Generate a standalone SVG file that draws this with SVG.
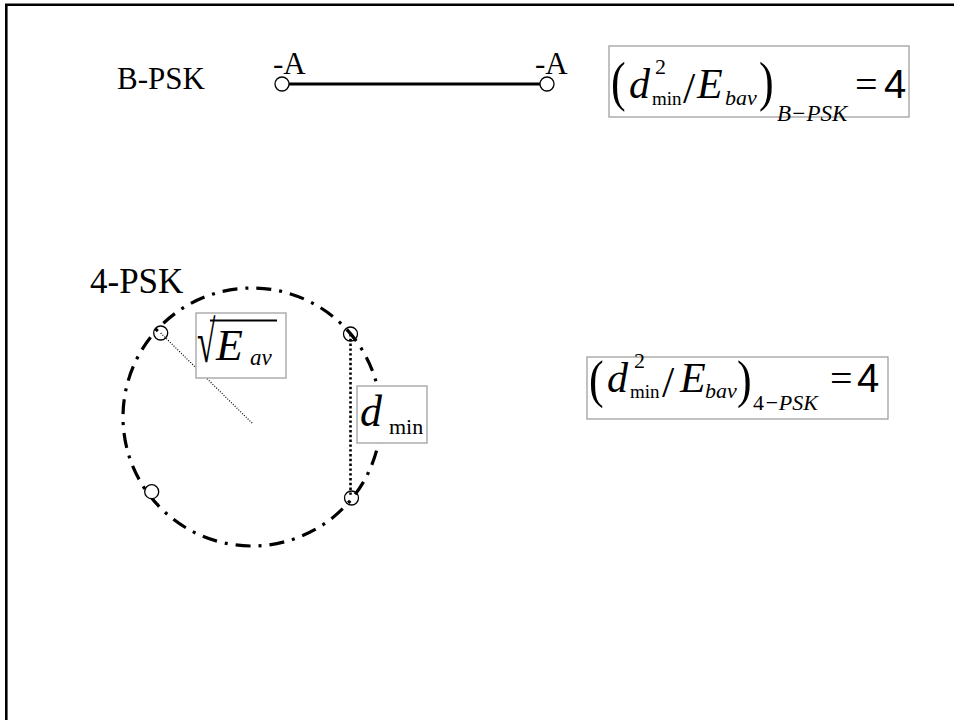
<svg xmlns="http://www.w3.org/2000/svg" width="954" height="720" viewBox="0 0 954 720">
<style>
.t{font-family:"Liberation Serif","Times New Roman",serif;fill:#000}
.i{font-style:italic}
.s{font-family:"Liberation Sans",Arial,sans-serif;fill:#000}
.box{fill:#fff;stroke:#a0a0a0;stroke-width:1.3}
.pt{fill:none;stroke:#000;stroke-width:1.3}
</style>
<rect width="954" height="720" fill="#fff"/>
<path d="M6.3,720 V4.7 H954" fill="none" stroke="#000" stroke-width="2.6"/>

<g id="bpsk">
<text class="t" x="117" y="89" font-size="31">B-PSK</text>
<line x1="289" y1="84" x2="540" y2="84" stroke="#000" stroke-width="3.2"/>
<circle class="pt" cx="282" cy="84" r="7" style="fill:#fff"/>
<circle class="pt" cx="547" cy="84" r="7" style="fill:#fff"/>
<text class="t" x="273" y="74" font-size="31">-A</text>
<text class="t" x="535" y="74" font-size="31">-A</text>
</g>

<g id="formula1">
<rect class="box" x="609" y="46" width="300" height="71"/>
<text class="t" font-size="44" transform="translate(611,100) scale(1,1.25)">(</text>
<text class="t i" x="629" y="98" font-size="42">d</text>
<text class="t" x="655" y="74" font-size="22">2</text>
<text class="t" x="652" y="105" font-size="19">min</text>
<text class="t" x="683" y="103" font-size="44">/</text>
<text class="t i" x="697" y="98" font-size="42">E</text>
<text class="t i" x="725" y="105" font-size="22">bav</text>
<text class="t" font-size="44" transform="translate(759,100) scale(1,1.25)">)</text>
<text class="t i" x="777" y="121" font-size="23">B−PSK</text>
<text class="t" x="855" y="98" font-size="40">=</text>
<text class="s" x="884" y="98" font-size="40">4</text>
</g>

<g id="qpsk">
<text class="t" x="90" y="293" font-size="35">4-PSK</text>
<circle cx="252" cy="417" r="129" fill="none" stroke="#000" stroke-width="3.2" stroke-dasharray="15 8 3 8"/>
</g>

<g id="connectors">
<line x1="160.7" y1="333" x2="253" y2="424" stroke="#000" stroke-width="1.2" stroke-dasharray="1 1.6"/>
<line x1="350.5" y1="334" x2="350.5" y2="497" stroke="#000" stroke-width="2.6" stroke-dasharray="2.4 2.4"/>
</g>

<g id="points">
<circle class="pt" cx="160.7" cy="333" r="7"/>
<circle class="pt" cx="350.5" cy="334" r="7"/>
<circle class="pt" cx="151.7" cy="491.7" r="7" style="fill:#fff"/>
<circle class="pt" cx="351.5" cy="498" r="7"/>
</g>

<g id="label-eav">
<rect class="box" x="196" y="313" width="90" height="65"/>
<text class="t" font-size="56" transform="translate(197,362) scale(0.6,1.05)">√</text>
<line x1="210" y1="320.5" x2="277" y2="320.5" stroke="#000" stroke-width="2.2"/>
<text class="t i" x="216" y="360" font-size="44">E</text>
<text class="t i" x="250" y="365" font-size="23">av</text>
</g>

<g id="label-dmin">
<rect class="box" x="357" y="386" width="70" height="57"/>
<text class="t i" x="360" y="426" font-size="44">d</text>
<text class="t" x="389" y="434" font-size="22">min</text>
</g>

<g id="formula2">
<rect class="box" x="587" y="357" width="301" height="62"/>
<text class="t" font-size="44" transform="translate(589,397) scale(1,1.2)">(</text>
<text class="t i" x="607" y="392" font-size="42">d</text>
<text class="t" x="634" y="368" font-size="22">2</text>
<text class="t" x="630" y="398" font-size="19">min</text>
<text class="t" x="662" y="397" font-size="44">/</text>
<text class="t i" x="680" y="392" font-size="42">E</text>
<text class="t i" x="705" y="398" font-size="22">bav</text>
<text class="t" font-size="44" transform="translate(737,397) scale(1,1.2)">)</text>
<text class="t" x="753" y="410" font-size="22">4<tspan class="i">−PSK</tspan></text>
<text class="t" x="830" y="392" font-size="40">=</text>
<text class="s" x="857" y="392" font-size="40">4</text>
</g>
</svg>
